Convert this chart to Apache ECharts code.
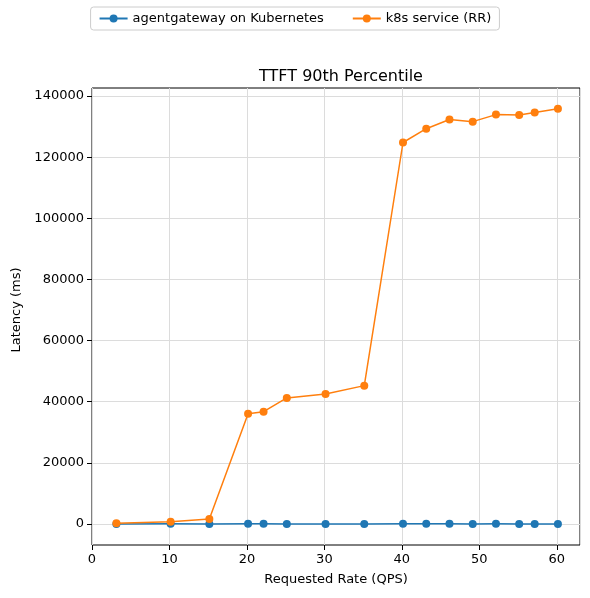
<!DOCTYPE html><html><head><meta charset="utf-8"><script src="https://cdn.jsdelivr.net/npm/echarts@6/dist/echarts.min.js"></script></head><body style="margin:0"><div id="c" style="width:590px;height:598px"></div><script>
const xs=[3,10,15,20,22,25,30,35,40,43,46,49,52,55,57,60];
const agentgateway=[100,120,110,130,120,110,100,110,120,130,120,110,120,110,110,100];
const k8s=[300,800,1700,36000,36700,41200,42500,45200,124500,129000,132000,131300,133600,133500,134300,135500];
const F='DejaVu Sans';
const pair=a=>xs.map((x,i)=>[x,a[i]]);
const c=echarts.init(document.getElementById('c'));
c.setOption({animation:false,textStyle:{fontFamily:F},
title:{text:'TTFT 90th Percentile',left:336,top:64,textAlign:'center',textStyle:{fontFamily:F,fontSize:16,fontWeight:'normal',color:'#000'}},
legend:{top:7,left:'center',itemGap:28,itemWidth:28,itemHeight:10,borderColor:'#ccc',borderWidth:1,borderRadius:3,padding:[5,8],textStyle:{fontFamily:F,fontSize:13,color:'#000'},data:['agentgateway on Kubernetes','k8s service (RR)']},
grid:[{left:92,right:10,top:88,bottom:53,show:true,borderColor:'#000',borderWidth:1},{left:92,right:10,top:96,bottom:74}],
xAxis:[{type:'value',gridIndex:0,position:'top',min:-0.15,max:62.85,interval:10,show:false},
{type:'value',gridIndex:0,position:'bottom',min:0,max:63,interval:10,name:'Requested Rate (QPS)',nameLocation:'middle',nameGap:28,nameTextStyle:{fontSize:13,color:'#000'},axisLine:{show:false},axisTick:{lineStyle:{color:'#000'}},axisLabel:{fontSize:13,color:'#000',showMaxLabel:false},splitLine:{lineStyle:{color:'#dcdcdc'}}},
{type:'value',gridIndex:1,show:false}],
yAxis:[{type:'value',gridIndex:0,min:-6775,max:142275,show:false},
{type:'value',gridIndex:1,min:0,max:140000,interval:20000,name:'Latency (ms)',nameLocation:'middle',nameGap:64,nameTextStyle:{fontSize:13,color:'#000'},axisLine:{show:false},axisTick:{show:true,lineStyle:{color:'#000'}},axisLabel:{fontSize:13,color:'#000',formatter:v=>String(v)},splitLine:{lineStyle:{color:'#dcdcdc'}}}],
series:[{name:'agentgateway on Kubernetes',type:'line',xAxisIndex:0,yAxisIndex:0,data:pair(agentgateway),symbol:'circle',symbolSize:8,color:'#1f77b4',lineStyle:{width:1.5},z:3},
{name:'k8s service (RR)',type:'line',xAxisIndex:0,yAxisIndex:0,data:pair(k8s),symbol:'circle',symbolSize:8,color:'#ff7f0e',lineStyle:{width:1.5},z:4},
{type:'line',xAxisIndex:2,yAxisIndex:1,data:[]}]});
</script></body></html>
